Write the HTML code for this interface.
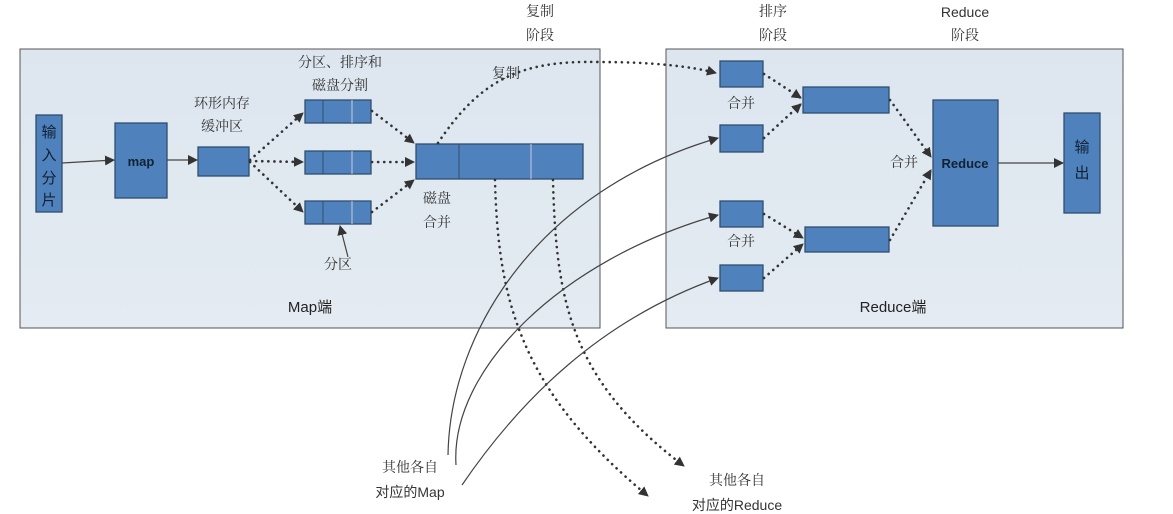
<!DOCTYPE html>
<html><head><meta charset="utf-8"><style>
body{margin:0;background:#fff;}
svg{display:block;font-family:"Liberation Sans","Noto Sans CJK SC",sans-serif;}
.t{font-size:14px;fill:#333;font-family:"Noto Serif CJK SC","Noto Sans CJK SC",serif;}
.b{fill:#4f81bd;stroke:#2f4f6f;stroke-width:1.3;}
.d{fill:none;stroke:#333;stroke-width:2.6;stroke-dasharray:0.1 6;stroke-linecap:round;}
.s{fill:none;stroke:#444;stroke-width:1.2;}
</style></head><body>
<svg width="1173" height="514" viewBox="0 0 1173 514">
<defs>
<marker id="a" markerWidth="10" markerHeight="10" refX="9" refY="5" orient="auto" markerUnits="userSpaceOnUse"><path d="M0,0 L10,5 L0,10 z" fill="#333"/></marker>
<linearGradient id="g" x1="0" y1="0" x2="0" y2="1"><stop offset="0" stop-color="#dde6ef"/><stop offset="1" stop-color="#e4ebf2"/></linearGradient>
</defs>
<rect x="20" y="49" width="580" height="279" fill="url(#g)" stroke="#555" stroke-width="1"/>
<rect x="666" y="49" width="457" height="279" fill="url(#g)" stroke="#555" stroke-width="1"/>

<!-- top labels -->
<text class="t" x="540" y="16" text-anchor="middle">复制</text>
<text class="t" x="540" y="40" text-anchor="middle">阶段</text>
<text class="t" x="773" y="16" text-anchor="middle">排序</text>
<text class="t" x="773" y="40" text-anchor="middle">阶段</text>
<text x="965" y="17" text-anchor="middle" font-size="14" fill="#333">Reduce</text>
<text class="t" x="965" y="40" text-anchor="middle">阶段</text>

<!-- map side boxes -->
<rect class="b" x="36" y="115" width="26" height="97"/>
<text x="49" y="137" text-anchor="middle" font-size="15" fill="#123">输</text>
<text x="49" y="160" text-anchor="middle" font-size="15" fill="#123">入</text>
<text x="49" y="183" text-anchor="middle" font-size="15" fill="#123">分</text>
<text x="49" y="205" text-anchor="middle" font-size="15" fill="#123">片</text>
<rect class="b" x="115" y="123" width="52" height="75"/>
<text x="141" y="166" text-anchor="middle" font-size="13" font-weight="bold" fill="#123">map</text>
<rect class="b" x="198" y="147" width="51" height="29"/>
<g>
<rect class="b" x="305" y="100" width="66" height="23"/><line x1="323" y1="100" x2="323" y2="123" stroke="#2f4f6f"/><line x1="352" y1="100" x2="352" y2="123" stroke="#ccd"/>
<rect class="b" x="305" y="151" width="66" height="23"/><line x1="323" y1="151" x2="323" y2="174" stroke="#2f4f6f"/><line x1="352" y1="151" x2="352" y2="174" stroke="#ccd"/>
<rect class="b" x="305" y="201" width="66" height="23"/><line x1="323" y1="201" x2="323" y2="224" stroke="#2f4f6f"/><line x1="352" y1="201" x2="352" y2="224" stroke="#ccd"/>
</g>
<rect class="b" x="416" y="144" width="167" height="35"/>
<line x1="459" y1="144" x2="459" y2="179" stroke="#2f4f6f"/>
<line x1="531" y1="144" x2="531" y2="179" stroke="#ccd"/>

<text class="t" x="222" y="108" text-anchor="middle">环形内存</text>
<text class="t" x="222" y="131" text-anchor="middle">缓冲区</text>
<text class="t" x="340" y="67" text-anchor="middle">分区、排序和</text>
<text class="t" x="340" y="90" text-anchor="middle">磁盘分割</text>
<text class="t" x="506" y="78" text-anchor="middle">复制</text>
<text class="t" x="437" y="203" text-anchor="middle">磁盘</text>
<text class="t" x="437" y="227" text-anchor="middle">合并</text>
<text class="t" x="338" y="269" text-anchor="middle">分区</text>
<text x="310" y="312" text-anchor="middle" font-size="15" fill="#222">Map端</text>

<!-- map arrows -->
<line class="s" x1="62" y1="163" x2="114" y2="160" marker-end="url(#a)"/>
<line class="s" x1="167" y1="160" x2="197" y2="160" marker-end="url(#a)"/>
<path class="d" d="M250,160 L303,113" marker-end="url(#a)"/>
<path class="d" d="M250,161 L303,162" marker-end="url(#a)"/>
<path class="d" d="M250,162 L303,212" marker-end="url(#a)"/>
<path class="d" d="M372,111 L414,143" marker-end="url(#a)"/>
<path class="d" d="M372,162 L414,162" marker-end="url(#a)"/>
<path class="d" d="M372,212 L414,180" marker-end="url(#a)"/>
<line class="s" x1="348" y1="257" x2="340" y2="226" marker-end="url(#a)"/>

<!-- copy dotted -->
<path class="d" d="M438,143 C480,80 520,60 600,62 C650,62 690,66 716,73" marker-end="url(#a)"/>
<!-- dotted down -->
<path class="d" d="M495,180 C498,300 520,390 648,496" marker-end="url(#a)"/>
<path class="d" d="M553,180 C556,300 570,380 684,466" marker-end="url(#a)"/>
<!-- solid curves -->
<path class="s" d="M448,455 C450,330 540,190 718,138" marker-end="url(#a)"/>
<path class="s" d="M456,465 C450,370 560,260 718,215" marker-end="url(#a)"/>
<path class="s" d="M462,485 C520,400 600,320 718,278" marker-end="url(#a)"/>

<!-- reduce side -->
<rect class="b" x="720" y="61" width="43" height="26"/>
<rect class="b" x="720" y="125" width="43" height="27"/>
<rect class="b" x="720" y="201" width="43" height="26"/>
<rect class="b" x="720" y="265" width="43" height="26"/>
<rect class="b" x="803" y="87" width="86" height="26"/>
<rect class="b" x="805" y="227" width="84" height="25"/>
<rect class="b" x="933" y="100" width="65" height="126"/>
<text x="965" y="168" text-anchor="middle" font-size="13" font-weight="bold" fill="#123">Reduce</text>
<rect class="b" x="1064" y="113" width="36" height="100"/>
<text x="1082" y="152" text-anchor="middle" font-size="15" fill="#123">输</text>
<text x="1082" y="178" text-anchor="middle" font-size="15" fill="#123">出</text>
<text class="t" x="741" y="108" text-anchor="middle">合并</text>
<text class="t" x="741" y="246" text-anchor="middle">合并</text>
<text class="t" x="904" y="167" text-anchor="middle">合并</text>
<text x="893" y="312" text-anchor="middle" font-size="15" fill="#222">Reduce端</text>

<path class="d" d="M764,74 L801,98" marker-end="url(#a)"/>
<path class="d" d="M764,138 L801,104" marker-end="url(#a)"/>
<path class="d" d="M764,214 L803,238" marker-end="url(#a)"/>
<path class="d" d="M764,278 L803,244" marker-end="url(#a)"/>
<path class="d" d="M890,100 L931,157" marker-end="url(#a)"/>
<path class="d" d="M890,240 L931,170" marker-end="url(#a)"/>
<line class="s" x1="998" y1="163" x2="1063" y2="163" marker-end="url(#a)"/>

<text class="t" x="410" y="472" text-anchor="middle">其他各自</text>
<text x="410" y="497" text-anchor="middle" font-size="14" fill="#333">对应的Map</text>
<text class="t" x="737" y="485" text-anchor="middle">其他各自</text>
<text x="737" y="510" text-anchor="middle" font-size="14" fill="#333">对应的Reduce</text>
</svg>
</body></html>
